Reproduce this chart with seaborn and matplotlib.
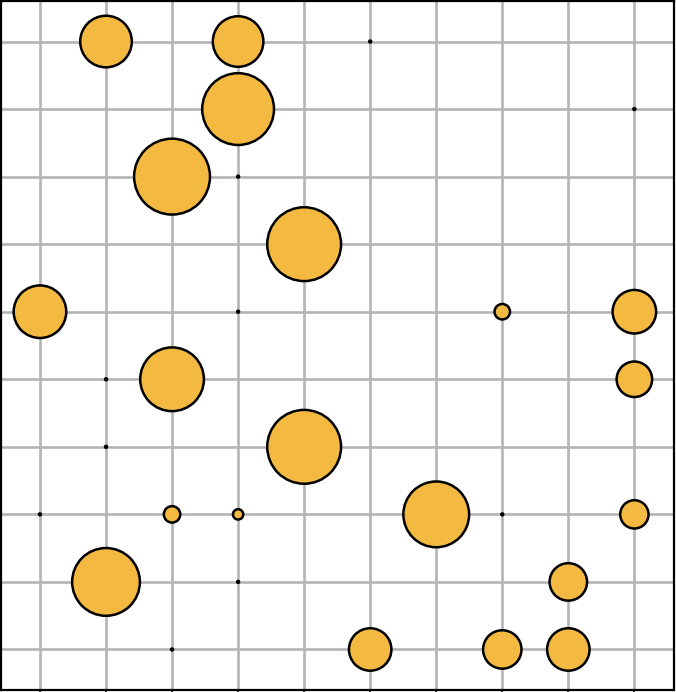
import matplotlib
matplotlib.use("Agg")
import matplotlib.pyplot as plt
import seaborn as sns
import pandas as pd

# grid categories (columns left->right, rows top->bottom)
x_labels = ["1", "2", "3", "4", "5", "6", "7", "8", "9", "10"]
y_labels = ["1", "2", "3", "4", "5", "6", "7", "8", "9", "10"]

# bubble data
col_idx = [1, 3, 5, 3, 9, 2, 3, 4, 0, 3, 7, 9, 1, 2, 9, 1, 4, 0, 2, 3, 6, 7, 9, 1, 3, 8, 2, 5, 7, 8]
row_idx = [0, 0, 0, 1, 1, 2, 2, 3, 4, 4, 4, 4, 5, 5, 5, 6, 6, 7, 7, 7, 7, 7, 7, 8, 8, 8, 9, 9, 9, 9]
values = [26, 25, 0, 50.4, 0, 56.3, 0, 53.3, 27, 0, 2.3, 18.5, 0, 39.7, 12.3, 0, 53.3,
          0, 2.6, 1.0, 42.3, 0, 7.8, 44.9, 0, 13.7, 0, 17.6, 14.4, 17.6]

df = pd.DataFrame({"col": col_idx, "row": row_idx, "value": values})

sns.set_style("white")
fig = plt.figure(figsize=(6.76, 6.92), dpi=100)
ax = fig.add_axes([1 / 676, 2 / 692, 673 / 676, 689 / 692])

sns.scatterplot(data=df, x="col", y="row", size="value",
                sizes=(2, 60 * 53), size_norm=(0, 60),
                color="#F3B941", edgecolor="black", linewidth=1.8,
                legend=False, ax=ax, zorder=3, alpha=1)

ax.set_xlim(-0.59, 9.6)
ax.set_ylim(9.6, -0.6)
ax.set_xticks(range(len(x_labels)))
ax.set_xticklabels(x_labels)
ax.set_yticks(range(len(y_labels)))
ax.set_yticklabels(y_labels)
ax.grid(True, color="#b4b4b4", linewidth=1.9)
ax.set_axisbelow(True)
ax.tick_params(axis="x", bottom=True, direction="out", length=5, width=1.5,
               labelbottom=False)
ax.tick_params(axis="y", left=False, labelleft=False)
ax.set_xlabel("")
ax.set_ylabel("")
for s in ax.spines.values():
    s.set_visible(True)
    s.set_color("black")
    s.set_linewidth(1.6)

fig.savefig("out.png", dpi=100)
